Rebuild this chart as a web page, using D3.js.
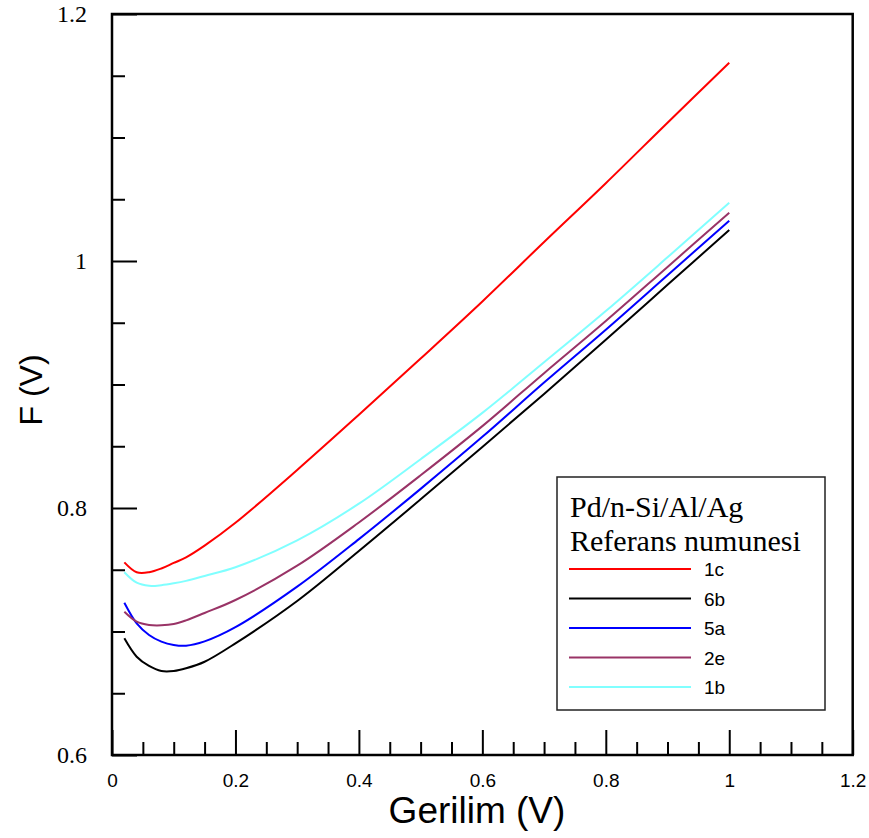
<!DOCTYPE html>
<html>
<head>
<meta charset="utf-8">
<script src="https://cdn.jsdelivr.net/npm/d3@7"></script>
<style>
  body { margin: 0; background: #fff; }
  svg { display: block; }
</style>
</head>
<body>
<svg id="chart" width="869" height="838"></svg>
<script>
// Voltage points (x)
const voltage = [0.02, 0.04, 0.06, 0.08, 0.10, 0.12, 0.15, 0.20, 0.30, 0.40, 0.50, 0.60, 0.70, 0.80, 0.90, 1.00];

// Barrier height F (V) per sample
const s1c = [0.756, 0.748, 0.748, 0.751, 0.7555, 0.760, 0.7695, 0.788, 0.8308, 0.8755, 0.921, 0.9672, 1.0154, 1.063, 1.112, 1.1606];
const s6b = [0.6945, 0.6796, 0.6721, 0.668, 0.668, 0.6702, 0.6755, 0.6904, 0.7247, 0.7652, 0.807, 0.8494, 0.8924, 0.9363, 0.9807, 1.0251];
const s5a = [0.7233, 0.7066, 0.6972, 0.6918, 0.6891, 0.6885, 0.692, 0.7035, 0.7363, 0.7748, 0.8155, 0.8576, 0.9016, 0.9444, 0.9885, 1.0326];
const s2e = [0.716, 0.708, 0.7053, 0.705, 0.706, 0.709, 0.715, 0.7255, 0.7533, 0.7883, 0.8265, 0.8663, 0.9092, 0.9514, 0.9952, 1.0391];
const s1b = [0.748, 0.7395, 0.737, 0.7375, 0.739, 0.741, 0.745, 0.752, 0.7738, 0.8035, 0.8395, 0.877, 0.918, 0.9595, 1.003, 1.0472];

const seriesNames = ['1c', '6b', '5a', '2e', '1b'];
const seriesValues = [s1c, s6b, s5a, s2e, s1b];
const seriesColors = ['#ff0000', '#000000', '#0000ff', '#993366', '#80ffff'];

const xTicks = [0, 0.2, 0.4, 0.6, 0.8, 1, 1.2];
const yTicks = [0.6, 0.8, 1, 1.2];
const legendTitle = ['Pd/n-Si/Al/Ag', 'Referans numunesi'];

const svg = d3.select('#chart');

// Plot area
const margin = { left: 112, top: 14, right: 869 - 852.7, bottom: 838 - 755 };
const width = 869 - margin.left - margin.right;
const height = 838 - margin.top - margin.bottom;

const g = svg.append('g')
  .attr('transform', `translate(${margin.left},${margin.top})`);

const x = d3.scaleLinear().domain([0, 1.2]).range([0, width]);
const y = d3.scaleLinear().domain([0.6, 1.2]).range([height, 0]);

// minor ticks every 0.05
const xMinor = d3.range(0, 1.2001, 0.05).filter((v) => Math.abs(v / 0.2 - Math.round(v / 0.2)) > 1e-6);
const yMinor = d3.range(0.6, 1.2001, 0.05).filter((v) => Math.abs(v / 0.2 - Math.round(v / 0.2)) > 1e-6);

// Frame
g.append('rect')
  .attr('width', width)
  .attr('height', height)
  .attr('fill', 'none')
  .attr('stroke', '#000')
  .attr('stroke-width', 2.5);

// X axis, minor then major
g.append('g')
  .attr('transform', `translate(0,${height})`)
  .call(d3.axisBottom(x).tickValues(xMinor).tickSize(-13).tickSizeOuter(0).tickFormat(''))
  .call((a) => a.select('.domain').remove())
  .selectAll('line').attr('stroke-width', 2);

const xAxis = g.append('g')
  .attr('transform', `translate(0,${height})`)
  .call(d3.axisBottom(x).tickValues(xTicks).tickSize(-25).tickSizeOuter(0).tickPadding(18.5)
    .tickFormat((d) => String(d)));
xAxis.select('.domain').remove();
xAxis.selectAll('line').attr('stroke-width', 2);
xAxis.selectAll('text')
  .attr('font-family', 'Liberation Sans, Arial, sans-serif')
  .attr('font-size', 19)
  .attr('fill', '#000');

// Y axis, minor then major
g.append('g')
  .call(d3.axisLeft(y).tickValues(yMinor).tickSize(-13).tickSizeOuter(0).tickFormat(''))
  .call((a) => a.select('.domain').remove())
  .selectAll('line').attr('stroke-width', 2);

const yAxis = g.append('g')
  .call(d3.axisLeft(y).tickValues(yTicks).tickSize(-25).tickSizeOuter(0).tickPadding(25)
    .tickFormat((d) => String(d)));
yAxis.select('.domain').remove();
yAxis.selectAll('line').attr('stroke-width', 2);
yAxis.selectAll('text')
  .attr('font-family', 'Liberation Serif, Times New Roman, serif')
  .attr('font-size', 24)
  .attr('fill', '#000');

// Axis titles
svg.append('text')
  .attr('x', 477)
  .attr('y', 823)
  .attr('text-anchor', 'middle')
  .attr('font-family', 'Liberation Sans, Arial, sans-serif')
  .attr('font-size', 37)
  .text('Gerilim (V)');

svg.append('text')
  .attr('transform', 'translate(42,390) rotate(-90)')
  .attr('text-anchor', 'middle')
  .attr('font-family', 'Liberation Sans, Arial, sans-serif')
  .attr('font-size', 32)
  .text('F (V)');

// Curves
const line = d3.line()
  .x((d) => x(d[0]))
  .y((d) => y(d[1]))
  .curve(d3.curveCatmullRom.alpha(0.5));

seriesValues.forEach((vals, i) => {
  g.append('path')
    .datum(voltage.map((v, j) => [v, vals[j]]))
    .attr('fill', 'none')
    .attr('stroke', seriesColors[i])
    .attr('stroke-width', 2)
    .attr('d', line);
});

// Legend
const legend = svg.append('g').attr('transform', 'translate(557,477)');
legend.append('rect')
  .attr('width', 268)
  .attr('height', 233)
  .attr('fill', '#fff')
  .attr('stroke', '#222')
  .attr('stroke-width', 1.5);

legendTitle.forEach((t, i) => {
  legend.append('text')
    .attr('x', 13)
    .attr('y', 40 + i * 34)
    .attr('font-family', 'Liberation Serif, Times New Roman, serif')
    .attr('font-size', 30)
    .text(t);
});

seriesNames.forEach((name, i) => {
  const ly = 92 + i * 29.5;
  legend.append('line')
    .attr('x1', 12).attr('x2', 134)
    .attr('y1', ly).attr('y2', ly)
    .attr('stroke', seriesColors[i])
    .attr('stroke-width', 2);
  legend.append('text')
    .attr('x', 147)
    .attr('y', ly + 7)
    .attr('font-family', 'Liberation Sans, Arial, sans-serif')
    .attr('font-size', 19)
    .text(name);
});
</script>
</body>
</html>
